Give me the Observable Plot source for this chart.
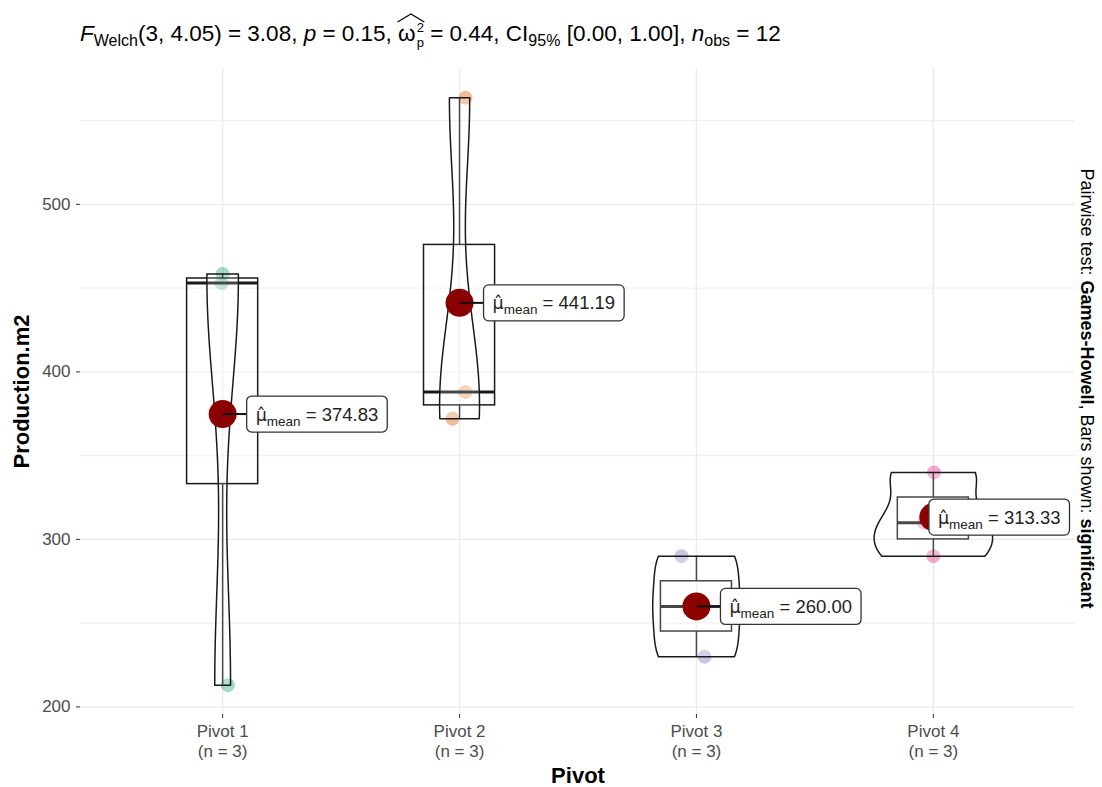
<!DOCTYPE html>
<html><head><meta charset="utf-8">
<script src="https://cdn.jsdelivr.net/npm/d3@7"></script>
<script src="https://cdn.jsdelivr.net/npm/@observablehq/plot@0.6"></script>
<style>
body{margin:0;background:#fff;font-family:"Liberation Sans",Arial,Helvetica,sans-serif;}
#wrap{width:1102px;height:787px;position:relative;overflow:hidden;background:#fff}
#title{height:60px;box-sizing:border-box;padding:20px 0 0 80px;font-size:22.5px;line-height:26px;white-space:nowrap;color:#000}
#title sub{font-size:16px;line-height:0;vertical-align:-5px}
.hat{position:relative;display:inline-block;}
.ss{display:inline-block;font-size:13px;line-height:15px;vertical-align:-6px;margin-left:1px}
.caret{position:absolute;left:-1px;top:-7px;width:calc(100% + 2px);height:9px;overflow:visible}
svg g[aria-label="y-axis tick label"], svg g[aria-label="x-axis tick label"]{fill:#4d4d4d}
svg g[aria-label="y-axis tick"], svg g[aria-label="x-axis tick"]{stroke:#333}
</style></head>
<body><div id="wrap">
<div id="title"><i>F</i><sub>Welch</sub>(3, 4.05) = 3.08, <i>p</i> = 0.15, <span class="hat">ω<span class="ss">2<br>p</span><svg class="caret" viewBox="0 0 100 10" preserveAspectRatio="none"><polyline points="2,10 50,1 98,10" fill="none" stroke="#000" stroke-width="1.2" vector-effect="non-scaling-stroke"/></svg></span> = 0.44, CI<sub>95%</sub> [0.00, 1.00], <i>n</i><sub>obs</sub> = 12</div>
<div id="chart"></div>
</div>
<script>
// ---- data ----
const pivots = ["Pivot 1", "Pivot 2", "Pivot 3", "Pivot 4"];
const group = [1, 1, 1, 2, 2, 2, 3, 3, 3, 4, 4, 4];
const production = [458.5, 453, 213, 563.57, 388, 372, 290, 260, 230, 340, 310, 290];
const jitter = [0, -0.004, 0.022, 0.025, 0.025, -0.03, -0.063, 0.01, 0.034, 0.003, -0.04, 0.0];
const palette = ["#1B9E77", "#D95F02", "#7570B3", "#E7298A"];
const yTicks = [200, 300, 400, 500];
const yMinor = [250, 350, 450, 550];
const xLabel = "Pivot";
const yLabel = "Production.m2";
const pairwiseText = "Pairwise test: Games-Howell, Bars shown: significant";

// ---- derived ----
const obs = production.map((v, k) => ({g: group[k], v, j: jitter[k]}));
const groupIdx = pivots.map((_, i) => i + 1);
const stats = groupIdx.map(g => {
  const vals = obs.filter(d => d.g === g).map(d => d.v).sort(d3.ascending);
  return {
    g, vals, n: vals.length,
    min: vals[0], max: vals[vals.length - 1],
    q1: d3.quantileSorted(vals, 0.25), med: d3.quantileSorted(vals, 0.5), q3: d3.quantileSorted(vals, 0.75),
    mean: d3.mean(vals)
  };
});
function kde(vals) {
  const n = vals.length;
  const sd = d3.deviation(vals);
  const iqr = d3.quantileSorted(vals, 0.75) - d3.quantileSorted(vals, 0.25);
  const h = 0.9 * Math.min(sd, iqr / 1.34) * Math.pow(n, -0.2);
  return y => d3.sum(vals, v => Math.exp(-0.5 * ((y - v) / h) ** 2)) / (n * h * Math.sqrt(2 * Math.PI));
}
const NGRID = 512;
const dens = stats.map(s => {
  const f = kde(s.vals);
  return d3.range(NGRID).map(j => {
    const y = s.min + j * (s.max - s.min) / (NGRID - 1);
    return {y, d: f(y)};
  });
});
const dmax = d3.max(dens.flat(), d => d.d);
const violin = [];
stats.forEach((s, k) => {
  const pts = dens[k];
  const left = pts.map(p => ({g: s.g, x: s.g - 0.25 * p.d / dmax, y: p.y}));
  const right = pts.slice().reverse().map(p => ({g: s.g, x: s.g + 0.25 * p.d / dmax, y: p.y}));
  violin.push(...left, ...right, left[0]);
});
const ext = d3.extent(production);
const pad = (ext[1] - ext[0]) * 0.05;

const font = '"Liberation Sans", Arial, Helvetica, sans-serif';
const ink = "#1a1a1a";
const chart = Plot.plot({
  width: 1102, height: 727,
  marginLeft: 80, marginRight: 27, marginTop: 8, marginBottom: 73,
  x: {domain: [0.4, 4.6], axis: null},
  y: {domain: [ext[0] - pad, ext[1] + pad], axis: null},
  color: {domain: groupIdx, range: palette},
  style: {fontFamily: font, fontSize: "17px", background: "white", color: "#000"},
  marks: [
    Plot.gridY(yMinor, {stroke: "#ebebeb", strokeOpacity: 1, strokeWidth: 0.9}),
    Plot.gridY(yTicks, {stroke: "#ebebeb", strokeOpacity: 1, strokeWidth: 1.4}),
    Plot.gridX(groupIdx, {stroke: "#ebebeb", strokeOpacity: 1, strokeWidth: 1.4}),
    Plot.axisY(yTicks, {tickSize: 4, tickPadding: 6, fontSize: 17, label: null, tickFormat: d3.format("d")}),
    Plot.axisX(groupIdx, {tickSize: 4, tickPadding: 4, fontSize: 17, label: null, lineHeight: 1.2,
      tickFormat: i => `${pivots[i - 1]}\n(n = ${stats[i - 1].n})`}),
    Plot.dot(obs, {x: d => d.g + d.j, y: "v", r: 7, fill: "g", fillOpacity: 0.4, stroke: null}),
    Plot.rect(stats, {x1: d => d.g - 0.15, x2: d => d.g + 0.15, y1: "q1", y2: "q3", fill: "white", fillOpacity: 0.2, stroke: ink, strokeWidth: 1.5}),
    Plot.ruleX(stats, {x: "g", y1: "q3", y2: "max", stroke: ink, strokeWidth: 1.5}),
    Plot.ruleX(stats, {x: "g", y1: "min", y2: "q1", stroke: ink, strokeWidth: 1.5}),
    Plot.ruleY(stats, {y: "med", x1: d => d.g - 0.15, x2: d => d.g + 0.15, stroke: ink, strokeWidth: 3}),
    Plot.line(violin, {x: "x", y: "y", z: "g", stroke: ink, strokeWidth: 1.5, fill: "white", fillOpacity: 0.2}),
    Plot.dot(stats, {x: "g", y: "mean", r: 14, fill: "#8B0000", stroke: null}),
    Plot.text(stats, {x: "g", y: "mean", text: d => d.mean.toFixed(2), textAnchor: "start", fontSize: 18.5, fill: "#222"}),
    Plot.text([yLabel], {frameAnchor: "left", rotate: -90, dx: -59, textAnchor: "middle", lineAnchor: "middle", fontSize: 22, fontWeight: "bold", fill: "#000"}),
    Plot.text([xLabel], {frameAnchor: "bottom", dy: 61, textAnchor: "middle", lineAnchor: "middle", fontSize: 22, fontWeight: "bold", fill: "#000"}),
    Plot.text([pairwiseText], {frameAnchor: "right", rotate: 90, dx: 11, dy: -3, textAnchor: "middle", lineAnchor: "middle", fontSize: 18, fill: "#000"})
  ]
});
document.getElementById("chart").append(chart);

const xs = chart.scale("x"), ys = chart.scale("y");
const xRight = xs.apply(4.6);
const NS = "http://www.w3.org/2000/svg";
const allText = Array.from(chart.querySelectorAll("text"));
stats.forEach(d => {
  const el = allText.find(e => e.textContent === d.mean.toFixed(2));
  if (!el) return;
  const t = d3.select(el);
  const cx = xs.apply(d.g), cy = ys.apply(d.mean);
  t.text(null).attr("x", null).attr("y", null).attr("dy", "0.35em");
  t.append("tspan").attr("font-family", "DejaVu Sans").attr("font-size", 17.5).text("\u03bc\u0302");
  t.append("tspan").attr("font-size", 13.5).attr("dy", 5).text("mean");
  t.append("tspan").attr("dy", -5).text(" = " + d.mean.toFixed(2));
  const w = el.getBBox().width;
  const padX = 9, boxH = 36;
  let left = cx + 24;
  const right = left + w + 2 * padX;
  if (right > xRight - 6) left -= right - (xRight - 6);
  t.attr("transform", `translate(${left + padX},${cy})`);
  const g = el.parentNode;
  if (left > cx) {
    const ln = document.createElementNS(NS, "line");
    ln.setAttribute("x1", cx); ln.setAttribute("x2", left);
    ln.setAttribute("y1", cy); ln.setAttribute("y2", cy);
    ln.setAttribute("stroke", "#111"); ln.setAttribute("stroke-width", 2);
    g.insertBefore(ln, el);
  }
  const rc = document.createElementNS(NS, "rect");
  rc.setAttribute("x", left); rc.setAttribute("y", cy - boxH / 2);
  rc.setAttribute("width", w + 2 * padX); rc.setAttribute("height", boxH);
  rc.setAttribute("rx", 5); rc.setAttribute("fill", "white");
  rc.setAttribute("stroke", "#333"); rc.setAttribute("stroke-width", 1.3);
  g.insertBefore(rc, el);
});
const pw = allText.find(e => e.textContent === pairwiseText);
if (pw) {
  const t = d3.select(pw);
  t.text(null);
  t.append("tspan").text("Pairwise test: ");
  t.append("tspan").attr("font-weight", "bold").text("Games-Howell");
  t.append("tspan").text(", Bars shown: ");
  t.append("tspan").attr("font-weight", "bold").text("significant");
}
</script>
</body></html>
